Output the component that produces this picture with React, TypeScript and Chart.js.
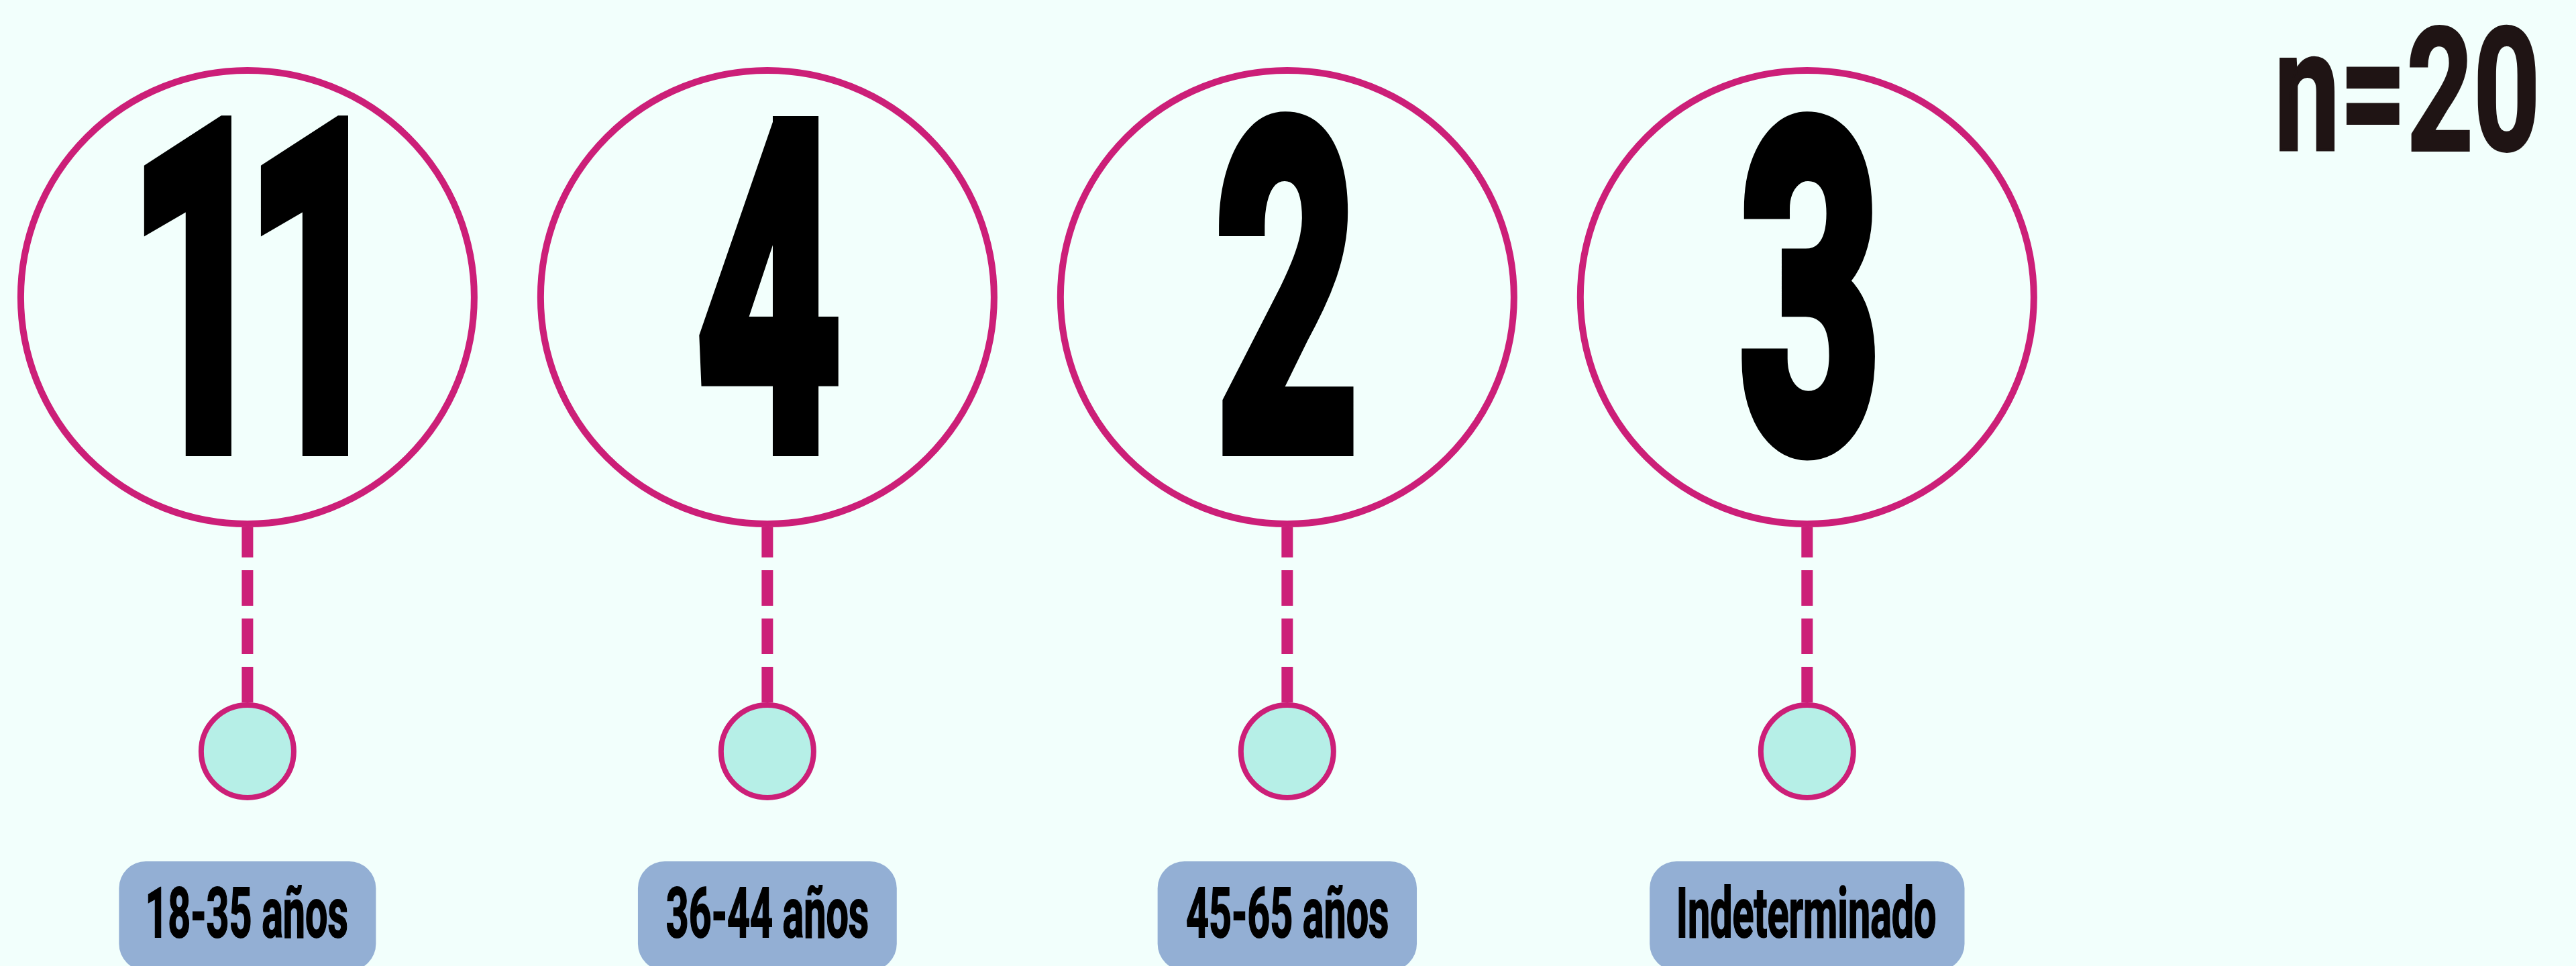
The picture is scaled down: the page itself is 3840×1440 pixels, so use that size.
import React, { useEffect, useRef } from "react";
import { Chart, registerables } from "chart.js";

Chart.register(...registerables);

// ---------- data ----------
const categories = ["18-35 años", "36-44 años", "45-65 años", "Indeterminado"];
const counts = [11, 4, 2, 3];
const sampleSize = 20;

// ---------- style / layout constants ----------
const W = 3840;
const H = 1440;
const BG = "#f2fffc";
const MAGENTA = "#cc1f78";
const DOT_FILL = "#b6efe7";
const BOX_FILL = "#93afd4";
const TEXT = "#000000";
const N_TEXT = "#1f1414";
const FONT = 'Roboto, "Open Sans", Inter, "DejaVu Sans Condensed", sans-serif';

const X_MIN = -0.476;
const X_MAX = 4.479;
const BIG_Y = 443;
const BIG_R = 338;
const BIG_BW = 10;
const DOT_Y = 1120;
const DOT_R = 69;
const DOT_BW = 8;

// ink-width / height ratios of the condensed lettering
const NUM_ASPECT = 206 / 513; // for the glyph "2"
const NUM_GAP = 37; // gap between digit inks in multi-digit counts
const LABEL_ASPECT = 297 / 77; // for "18-35 años"
const N_ASPECT = 382 / 188; // for "n=20"

type TextStyle = {
  family: string;
  cap: number; // visible cap height incl. stroke
  squeeze: number;
  stroke: number; // extra outline width (pre-squeeze units)
  track: number; // letter spacing (pre-squeeze units)
};

function capRatio(ctx: CanvasRenderingContext2D, family: string): number {
  ctx.save();
  ctx.font = `bold 100px ${family}`;
  const m = ctx.measureText("H");
  ctx.restore();
  return (m.actualBoundingBoxAscent || 71) / 100;
}

function setFont(ctx: CanvasRenderingContext2D, st: TextStyle) {
  const r = capRatio(ctx, st.family);
  ctx.font = `bold ${(st.cap - st.stroke) / r}px ${st.family}`;
  (ctx as any).letterSpacing = `${st.track}px`;
  ctx.textAlign = "left";
  ctx.textBaseline = "alphabetic";
}

function measure(ctx: CanvasRenderingContext2D, text: string, st: TextStyle) {
  ctx.save();
  setFont(ctx, st);
  const m = ctx.measureText(text);
  ctx.restore();
  return {
    ink: (m.actualBoundingBoxLeft + m.actualBoundingBoxRight + st.stroke) * st.squeeze,
    adv: m.width * st.squeeze,
  };
}

function drawText(
  ctx: CanvasRenderingContext2D,
  text: string,
  x: number,
  baseline: number,
  st: TextStyle,
  align: "center" | "right",
  color: string
) {
  ctx.save();
  setFont(ctx, st);
  const m = ctx.measureText(text);
  const l = m.actualBoundingBoxLeft;
  const rr = m.actualBoundingBoxRight;
  ctx.translate(x, baseline - st.stroke / 2);
  ctx.scale(st.squeeze, 1);
  ctx.fillStyle = color;
  ctx.strokeStyle = color;
  const ox = align === "center" ? -(rr - l) / 2 : -(rr + st.stroke / 2);
  ctx.fillText(text, ox, 0);
  if (st.stroke > 0) {
    ctx.lineWidth = st.stroke;
    ctx.lineJoin = "miter";
    ctx.strokeText(text, ox, 0);
  }
  ctx.restore();
}

function roundRect(ctx: CanvasRenderingContext2D, x: number, y: number, w: number, h: number, r: number) {
  ctx.beginPath();
  ctx.moveTo(x + r, y);
  ctx.lineTo(x + w - r, y);
  ctx.arcTo(x + w, y, x + w, y + r, r);
  ctx.lineTo(x + w, y + h - r);
  ctx.arcTo(x + w, y + h, x + w - r, y + h, r);
  ctx.lineTo(x + r, y + h);
  ctx.arcTo(x, y + h, x, y + h - r, r);
  ctx.lineTo(x, y + r);
  ctx.arcTo(x, y, x + r, y, r);
  ctx.closePath();
}

function fitStyle(ctx: CanvasRenderingContext2D, base: TextStyle, sample: string, targetInk: number): TextStyle {
  const raw = measure(ctx, sample, { ...base, squeeze: 1 }).ink;
  return { ...base, squeeze: targetInk / raw };
}

const backgroundPlugin = {
  id: "bgFill",
  beforeDraw(chart: any) {
    const ctx = chart.ctx;
    ctx.save();
    ctx.fillStyle = BG;
    ctx.fillRect(0, 0, chart.width, chart.height);
    ctx.restore();
  },
};

const textPlugin = {
  id: "texts",
  afterDatasetsDraw(chart: any) {
    const ctx: CanvasRenderingContext2D = chart.ctx;
    const xs = chart.scales.x;
    const ys = chart.scales.y;

    // big counts
    const numCap = 513;
    const numStyle = fitStyle(
      ctx,
      { family: FONT, cap: numCap, squeeze: 1, stroke: 30, track: 0 },
      "2",
      NUM_ASPECT * numCap
    );
    counts.forEach((c, i) => {
      const x = xs.getPixelForValue(i);
      const s = String(c);
      let st = numStyle;
      if (s.length > 1) {
        const one = measure(ctx, s[0], numStyle);
        const wantAdv = one.ink + NUM_GAP;
        st = { ...numStyle, track: (wantAdv - one.adv) / numStyle.squeeze };
      }
      drawText(ctx, s, x, ys.getPixelForValue(680), st, "center", TEXT);
    });

    // category boxes + labels
    const labCap = 77;
    const labStyle = fitStyle(
      ctx,
      { family: FONT, cap: labCap, squeeze: 1, stroke: 2, track: 0 },
      categories[0],
      LABEL_ASPECT * labCap
    );
    categories.forEach((lab, i) => {
      const x = xs.getPixelForValue(i);
      const ink = measure(ctx, lab, labStyle).ink;
      const bw = ink + 86;
      const top = ys.getPixelForValue(1284);
      const bottom = ys.getPixelForValue(1447);
      ctx.save();
      ctx.fillStyle = BOX_FILL;
      roundRect(ctx, x - bw / 2, top, bw, bottom - top, 40);
      ctx.fill();
      ctx.restore();
      drawText(ctx, lab, x, ys.getPixelForValue(1398), labStyle, "center", TEXT);
    });

    // sample size
    const nCap = 188;
    const nText = `n=${sampleSize}`;
    const nStyle = fitStyle(
      ctx,
      { family: FONT, cap: nCap, squeeze: 1, stroke: 4, track: 0 },
      nText,
      N_ASPECT * nCap
    );
    drawText(ctx, nText, 3780, ys.getPixelForValue(226), nStyle, "right", N_TEXT);
  },
};

export default function App() {
  const ref = useRef<HTMLCanvasElement | null>(null);

  useEffect(() => {
    document.body.style.margin = "0";
    document.body.style.background = BG;
    const canvas = ref.current;
    if (!canvas) return;

    const connectors = categories.map((_, i) => ({
      label: `conn-${i}`,
      data: [
        { x: i, y: BIG_Y + BIG_R + BIG_BW / 2 },
        { x: i, y: DOT_Y },
      ],
      showLine: true,
      borderColor: MAGENTA,
      borderWidth: 17,
      borderDash: [53, 19],
      borderDashOffset: 8,
      borderCapStyle: "butt",
      pointRadius: 0,
      clip: false,
      order: 3,
    }));

    const bigCircles = {
      label: "counts",
      data: counts.map((_, i) => ({ x: i, y: BIG_Y })),
      showLine: false,
      pointRadius: BIG_R,
      pointBorderWidth: BIG_BW,
      pointBackgroundColor: BG,
      pointBorderColor: MAGENTA,
      clip: false,
      order: 2,
    };

    const dots = {
      label: "dots",
      data: categories.map((_, i) => ({ x: i, y: DOT_Y })),
      showLine: false,
      pointRadius: DOT_R,
      pointBorderWidth: DOT_BW,
      pointBackgroundColor: DOT_FILL,
      pointBorderColor: MAGENTA,
      clip: false,
      order: 1,
    };

    const chart = new Chart(canvas, {
      type: "scatter",
      data: { datasets: [...connectors, bigCircles, dots] as any },
      options: {
        responsive: false,
        maintainAspectRatio: false,
        devicePixelRatio: 1,
        animation: false,
        events: [],
        layout: { padding: 0, autoPadding: false },
        plugins: {
          legend: { display: false },
          tooltip: { enabled: false },
        },
        scales: {
          x: { type: "linear", min: X_MIN, max: X_MAX, display: false },
          y: { type: "linear", min: 0, max: H, reverse: true, display: false },
        },
      } as any,
      plugins: [backgroundPlugin, textPlugin],
    });

    return () => chart.destroy();
  }, []);

  return (
    <div style={{ width: W, height: H, background: BG }}>
      <canvas ref={ref} width={W} height={H} style={{ display: "block", width: W, height: H }} />
    </div>
  );
}
